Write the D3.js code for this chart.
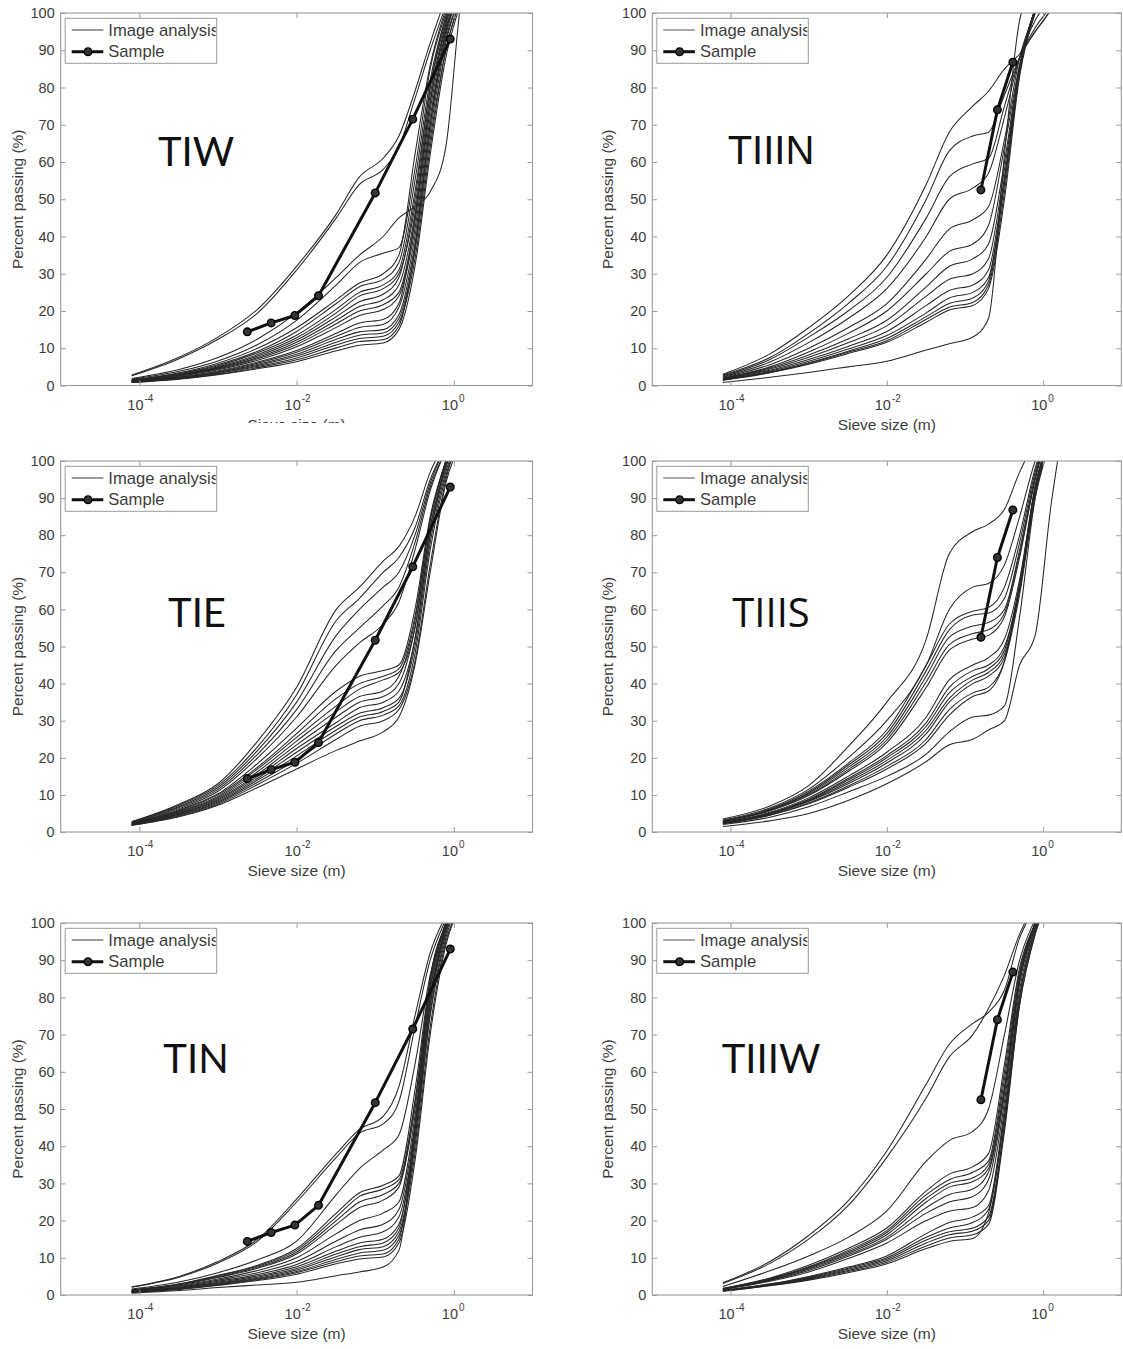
<!DOCTYPE html>
<html>
<head>
<meta charset="utf-8">
<script src="https://cdn.jsdelivr.net/npm/d3@7"></script>
<style>
  body { margin: 0; background: #fff; }
  svg { display: block; }
</style>
</head>
<body>
<svg id="chart" width="1123" height="1349"></svg>
<script>
// Sieve sizes (m) at which every image-analysis curve is sampled
const sizes = [0.00008, 0.00032, 0.001, 0.0032, 0.01, 0.032, 0.063, 0.126, 0.2, 0.32, 0.5, 0.79, 1.26, 2.0];

// Percent passing for each image-analysis curve, one row per image
const tiwCurves = [
  [2.8, 7.6, 13, 20.5, 32, 46, 56, 61, 67, 79, 92, 104, 115, 120],
  [2.6, 7.2, 12.4, 19.5, 31, 45, 54, 58, 64, 77, 90, 102, 115, 120],
  [1.9, 4.3, 7.5, 12.5, 19.5, 29, 35, 40, 45, 48, 52, 64, 105, 120],
  [1.7, 3.8, 6.6, 11, 17.5, 27, 33, 35.5, 37, 58, 85, 100, 112, 120],
  [1.5, 3.4, 6, 10, 15.5, 23, 27.5, 30, 35, 62, 86, 101, 112, 120],
  [1.4, 3.2, 5.6, 9.2, 14.5, 22, 26.5, 28.5, 33, 55, 82, 99, 110, 120],
  [1.4, 3.1, 5.3, 8.8, 13.5, 20.5, 25, 27, 31, 52, 80, 98, 110, 120],
  [1.3, 2.9, 5, 8.3, 12.8, 19.5, 24, 26, 30, 48, 78, 97, 110, 120],
  [1.3, 2.8, 4.8, 7.9, 12.2, 18.5, 22.5, 24.5, 29, 50, 80, 99, 110, 120],
  [1.2, 2.7, 4.6, 7.5, 11.6, 17.5, 21.2, 23, 27, 46, 76, 96, 108, 120],
  [1.2, 2.6, 4.4, 7.2, 11, 16.6, 20, 21.7, 25, 44, 74, 95, 108, 120],
  [1.1, 2.5, 4.2, 6.8, 10.4, 15.6, 18.8, 20.4, 24, 42, 72, 94, 108, 120],
  [1.1, 2.3, 3.9, 6.3, 9.4, 14, 16.8, 17.7, 22, 45, 76, 97, 110, 120],
  [1.0, 2.2, 3.7, 6, 8.9, 13.2, 15.6, 16.4, 21, 40, 70, 93, 106, 120],
  [1.0, 2.1, 3.5, 5.7, 8.4, 12.4, 14.4, 15, 19, 38, 68, 92, 106, 120],
  [0.9, 2, 3.3, 5.4, 7.9, 11.6, 13.5, 14.1, 18, 36, 66, 90, 105, 120],
  [0.9, 1.9, 3.2, 5.1, 7.4, 10.9, 12.6, 13.2, 17, 34, 64, 90, 105, 120],
  [0.9, 1.8, 3, 4.8, 6.9, 10.1, 11.8, 12.3, 16, 37, 70, 95, 108, 120],
  [0.8, 1.7, 2.9, 4.5, 6.4, 9.3, 10.8, 11.4, 15, 32, 62, 88, 104, 120]
];

const tiiinCurves = [
  [3, 8.5, 15.5, 24, 35, 54, 68, 75, 79, 85, 89, 95, 101, 110],
  [2.8, 7.5, 14, 22, 32, 50, 63, 67, 68, 78, 88, 95, 101, 110],
  [2.6, 7, 13, 20, 29, 45, 56, 59.5, 61, 75, 88, 96, 102, 110],
  [2.4, 6.3, 11.5, 18, 26, 40, 50, 53, 57, 72, 88, 98, 104, 110],
  [2.2, 5.6, 10, 15.5, 22, 34, 42, 44.5, 48, 66, 88, 100, 108, 115],
  [2, 5, 9, 14, 20, 30, 36, 38, 43, 64, 86, 100, 108, 115],
  [1.9, 4.7, 8.2, 12.5, 17.5, 26.5, 32, 34, 38, 60, 86, 101, 108, 115],
  [1.8, 4.4, 7.6, 11.5, 16, 24, 28.5, 30, 34, 58, 85, 101, 108, 115],
  [1.7, 4.1, 7, 10.5, 14.5, 21.5, 25.5, 27, 31, 56, 84, 101, 108, 115],
  [1.6, 3.8, 6.5, 9.8, 13.4, 19.5, 23.5, 25, 29, 54, 84, 101, 108, 115],
  [1.5, 3.6, 6.1, 9.2, 12.6, 18.5, 22, 23.5, 28, 55, 85, 101, 108, 115],
  [1.5, 3.5, 5.9, 8.9, 12, 17.8, 21, 22.3, 27, 52, 84, 101, 108, 115],
  [1.4, 3.4, 5.7, 8.6, 11.6, 17, 20.3, 21.5, 26, 50, 83, 100, 108, 115],
  [0.8, 2.2, 3.5, 5, 6.5, 9.5, 11.2, 13, 18, 62, 98, 108, 112, 115]
];

const tieCurves = [
  [2.8, 7.5, 13, 24.5, 39, 60, 66, 73, 77, 85, 97, 105, 112, 120],
  [2.7, 7.2, 12.5, 23, 37, 57, 63, 70, 74, 82, 95, 104, 112, 120],
  [2.6, 6.9, 12, 22, 35, 53, 60, 66, 70, 80, 94, 104, 112, 120],
  [2.5, 6.6, 11.5, 21, 33, 49, 55, 61, 66, 78, 93, 103, 112, 120],
  [2.4, 6.3, 11, 20, 31, 45, 51, 56, 62, 76, 92, 103, 112, 120],
  [2.3, 6, 10.3, 18.5, 28, 38, 42, 43.5, 45, 60, 85, 100, 110, 120],
  [2.2, 5.8, 10, 17.5, 26.5, 36, 40, 42, 44, 58, 84, 100, 110, 120],
  [2.2, 5.6, 9.6, 17, 25.5, 34, 38.5, 41, 43, 55, 82, 99, 110, 120],
  [2.1, 5.4, 9.3, 16.3, 24.5, 32.5, 36.5, 38, 42, 57, 84, 100, 110, 120],
  [2.1, 5.2, 9, 15.6, 23.5, 31, 35, 36.5, 40, 55, 82, 99, 110, 120],
  [2.0, 5.0, 8.7, 15, 22.5, 29.5, 33.5, 35, 38, 52, 80, 98, 110, 120],
  [2.0, 4.9, 8.4, 14.5, 21.5, 28.5, 32, 33.5, 36, 50, 78, 97, 108, 120],
  [1.9, 4.7, 8.1, 14, 20.5, 27.5, 31, 32.5, 35, 52, 80, 99, 110, 120],
  [1.9, 4.5, 7.8, 13.4, 19.5, 26.5, 30, 31.5, 34, 48, 76, 96, 108, 120],
  [1.8, 4.3, 7.5, 12.8, 18.5, 25, 28.5, 30, 33, 46, 72, 95, 108, 120],
  [1.8, 4.1, 7.2, 12, 17, 22, 24.5, 27, 31, 45, 70, 94, 106, 120]
];

const tiiisCurves = [
  [3.5, 7, 12.5, 23, 35, 52, 75, 81, 83, 87, 97, 105, 110, 120],
  [3.2, 6.5, 11.5, 20, 30, 45, 60, 66, 67, 72, 85, 100, 110, 120],
  [3, 6.2, 11, 18.5, 27.5, 45, 56, 59.5, 60.5, 66, 80, 98, 110, 120],
  [2.9, 6, 10.6, 18, 26.5, 43.5, 54.5, 58.5, 59, 63, 78, 97, 110, 120],
  [2.9, 5.9, 10.3, 17.4, 25.6, 42, 52.5, 55.5, 56.5, 60, 76, 96, 110, 120],
  [2.8, 5.8, 10, 16.8, 24.8, 40.5, 50.5, 53.5, 54.5, 59, 75, 95, 110, 120],
  [2.8, 5.7, 9.8, 16.3, 24, 39, 49, 52, 53, 58, 74, 95, 110, 120],
  [2.6, 5.3, 9.2, 15, 21.5, 31, 41, 45, 47, 52, 68, 93, 108, 120],
  [2.5, 5.1, 8.8, 14.4, 20.6, 29.5, 39, 43.5, 45, 50, 66, 92, 108, 120],
  [2.5, 5, 8.6, 14, 20, 28.5, 37.5, 42, 44, 49, 67, 93, 108, 120],
  [2.4, 4.9, 8.4, 13.5, 19.3, 27.5, 36, 41, 43, 48, 65, 91, 107, 120],
  [2.4, 4.8, 8.2, 13, 18.6, 26.5, 35, 40, 42, 47, 66, 93, 108, 120],
  [2.3, 4.6, 7.8, 12.4, 17.7, 25, 33, 37.5, 39, 46, 64, 90, 106, 120],
  [2.2, 4.5, 7.6, 12, 17, 24, 31.5, 36.5, 38, 46, 66, 92, 108, 120],
  [2, 4, 6.8, 10.8, 15, 21, 27, 31, 31.5, 34, 58, 90, 106, 120],
  [1.5, 3, 5, 8.5, 13, 19, 23.5, 25, 27.5, 30, 45, 53, 88, 115]
];

const tinCurves = [
  [2.2, 5, 9, 15, 25.8, 38, 44.5, 48, 56, 75, 92, 102, 110, 120],
  [2.1, 4.8, 8.6, 14.5, 25, 37, 43.5, 46, 52, 72, 90, 101, 110, 120],
  [1.6, 3.5, 6, 9.5, 14.5, 27, 34, 39, 43, 62, 86, 100, 110, 120],
  [1.4, 3, 5.3, 8, 12.5, 22, 27.5, 29.5, 32, 55, 85, 100, 110, 120],
  [1.3, 2.9, 5.1, 7.8, 12, 21, 26.5, 28.5, 31, 52, 83, 100, 110, 120],
  [1.3, 2.8, 4.9, 7.5, 11.5, 20, 25, 27, 30, 50, 82, 99, 110, 120],
  [1.2, 2.7, 4.7, 7.2, 11, 19, 23.5, 25.5, 29, 52, 84, 100, 110, 120],
  [1.1, 2.5, 4.3, 6.6, 10, 16.5, 20, 22, 25, 48, 80, 99, 110, 120],
  [1.0, 2.3, 4, 6, 9, 14.5, 17.5, 19, 23, 46, 80, 98, 110, 120],
  [1.0, 2.1, 3.7, 5.5, 8.2, 13, 15.5, 17, 21, 44, 78, 98, 108, 120],
  [0.9, 2, 3.4, 5.1, 7.6, 11.8, 14, 15, 19, 42, 76, 97, 108, 120],
  [0.9, 1.9, 3.2, 4.8, 7.1, 11, 13, 14, 18, 45, 80, 99, 110, 120],
  [0.8, 1.8, 3, 4.5, 6.7, 10.3, 12.2, 13, 17, 40, 75, 96, 108, 120],
  [0.8, 1.7, 2.9, 4.3, 6.3, 9.6, 11.3, 12, 16, 38, 72, 95, 106, 120],
  [0.8, 1.6, 2.7, 4.1, 6, 9, 10.5, 11, 15, 42, 78, 98, 108, 120],
  [0.7, 1.5, 2.6, 3.9, 5.6, 8.4, 9.7, 10.2, 14, 36, 70, 94, 106, 120],
  [0.5, 1.2, 2, 2.7, 3.4, 5.2, 6.2, 7.5, 12, 45, 85, 100, 110, 120]
];

const tiiiwCurves = [
  [3.3, 9, 16, 25.3, 38.7, 56.7, 67.4, 73, 76, 82, 96, 104, 110, 120],
  [3.1, 8.5, 15, 24, 37, 53, 64, 70, 77, 86, 97, 105, 110, 120],
  [2.3, 6.5, 10.5, 15.5, 22.6, 36, 41.5, 44, 50, 70, 90, 101, 110, 120],
  [1.8, 4.6, 8, 12.5, 18, 28, 32.5, 34.5, 38, 62, 88, 100, 110, 120],
  [1.7, 4.4, 7.6, 12, 17.3, 27, 31, 33, 36, 60, 87, 100, 110, 120],
  [1.7, 4.3, 7.4, 11.6, 16.8, 26, 30, 31.5, 35, 58, 86, 100, 110, 120],
  [1.6, 4.2, 7.2, 11.2, 16.2, 25, 29, 30.5, 34, 56, 85, 100, 110, 120],
  [1.6, 4, 6.9, 10.8, 15.5, 23.5, 27, 28.5, 33, 55, 85, 100, 110, 120],
  [1.5, 3.9, 6.6, 10.4, 15, 22, 25, 26.5, 31, 54, 84, 99, 110, 120],
  [1.5, 3.7, 6.2, 9.8, 14, 20, 22.5, 23.5, 28, 52, 84, 100, 110, 120],
  [1.3, 3, 5, 7.5, 10.5, 16.5, 19.5, 21, 24, 50, 82, 99, 110, 120],
  [1.2, 2.9, 4.8, 7.2, 10, 15.5, 18, 19.5, 23, 48, 80, 98, 108, 120],
  [1.2, 2.8, 4.6, 6.9, 9.6, 14.8, 17, 18, 21, 46, 80, 98, 108, 120],
  [1.1, 2.7, 4.4, 6.6, 9.2, 14, 16.2, 17.2, 20, 45, 78, 97, 108, 120],
  [1.1, 2.6, 4.2, 6.3, 8.8, 13.2, 15.3, 16.2, 19, 44, 78, 97, 108, 120],
  [1.0, 2.5, 4, 6, 8.4, 12.5, 14.4, 15.2, 22, 48, 80, 98, 108, 120]
];

// Sieved samples (size in m, percent passing)
const sampleSizesTI = [0.00236, 0.00475, 0.0095, 0.019, 0.1, 0.3, 0.9];
const samplePassingTI = [14.4, 16.8, 18.8, 24.1, 51.7, 71.5, 93.0];
const sampleSizesTIII = [0.16, 0.26, 0.41];
const samplePassingTIII = [52.5, 74.0, 86.8];

// Axis ticks
const xTickValues = [1e-4, 1e-2, 1];
const xTickExponents = ["-4", "-2", "0"];
const yTickValues = [0, 10, 20, 30, 40, 50, 60, 70, 80, 90, 100];

const legendLabels = ["Image analysis", "Sample"];

// Page layout: two columns by three rows of axes
const cols = [
  { x0: 60.7, x1: 532.5, ylabX: 18 },
  { x0: 652.3, x1: 1121.3, ylabX: 608 }
];
const rows = [
  { y0: 13, y1: 385.5, xlabY: 430 },
  { y0: 461, y1: 832, xlabY: 876 },
  { y0: 923, y1: 1295, xlabY: 1339 }
];

const panels = [
  { name: "TIW",   curves: tiwCurves,   sx: sampleSizesTI,   sy: samplePassingTI,   col: 0, row: 0, tx: 196, ty: 166, font: "Lato", clipXLabel: true },
  { name: "TIIIN", curves: tiiinCurves, sx: sampleSizesTIII, sy: samplePassingTIII, col: 1, row: 0, tx: 771, ty: 164, font: "Liberation Sans" },
  { name: "TIE",   curves: tieCurves,   sx: sampleSizesTI,   sy: samplePassingTI,   col: 0, row: 1, tx: 197, ty: 627, font: "Lato" },
  { name: "TIIIS", curves: tiiisCurves, sx: sampleSizesTIII, sy: samplePassingTIII, col: 1, row: 1, tx: 771, ty: 627, font: "Open Sans" },
  { name: "TIN",   curves: tinCurves,   sx: sampleSizesTI,   sy: samplePassingTI,   col: 0, row: 2, tx: 196, ty: 1073, font: "Lato" },
  { name: "TIIIW", curves: tiiiwCurves, sx: sampleSizesTIII, sy: samplePassingTIII, col: 1, row: 2, tx: 771, ty: 1073, font: "Lato" }
];

const svg = d3.select("#chart");
const defs = svg.append("defs");
const axisColor = "#9a9a9a";
const textColor = "#3c3c3c";
const tickFont = "Liberation Sans, Arial, sans-serif";

panels.forEach((p, k) => {
  const c = cols[p.col], r = rows[p.row];
  const x = d3.scaleLog().domain([1e-5, 10]).range([c.x0, c.x1]);
  const y = d3.scaleLinear().domain([0, 100]).range([r.y1, r.y0]);
  const g = svg.append("g").attr("class", "panel");

  const clipId = "plot-clip-" + k;
  defs.append("clipPath").attr("id", clipId)
    .append("rect")
    .attr("x", c.x0).attr("y", r.y0)
    .attr("width", c.x1 - c.x0).attr("height", r.y1 - r.y0);

  // Image-analysis gradation curves
  const curveLine = d3.line()
    .x((d, i) => x(sizes[i]))
    .y(d => y(d))
    .curve(d3.curveMonotoneX);

  const plot = g.append("g").attr("clip-path", `url(#${clipId})`);
  plot.selectAll("path.ia")
    .data(p.curves)
    .join("path")
    .attr("class", "ia")
    .attr("d", curveLine)
    .attr("fill", "none")
    .attr("stroke", "#262626")
    .attr("stroke-width", 1.05);

  // Sieved sample
  const pts = p.sx.map((s, i) => [s, p.sy[i]]);
  plot.append("path")
    .datum(pts)
    .attr("d", d3.line().x(d => x(d[0])).y(d => y(d[1])))
    .attr("fill", "none")
    .attr("stroke", "#111")
    .attr("stroke-width", 3)
    .attr("stroke-linejoin", "round");
  plot.selectAll("circle.smp")
    .data(pts)
    .join("circle")
    .attr("class", "smp")
    .attr("cx", d => x(d[0]))
    .attr("cy", d => y(d[1]))
    .attr("r", 3.8)
    .attr("fill", "#333")
    .attr("stroke", "#000")
    .attr("stroke-width", 1.4);

  // Axes box
  g.append("rect")
    .attr("x", c.x0).attr("y", r.y0)
    .attr("width", c.x1 - c.x0).attr("height", r.y1 - r.y0)
    .attr("fill", "none").attr("stroke", axisColor).attr("stroke-width", 1.1);

  const styleTicks = sel => {
    sel.select(".domain").remove();
    sel.selectAll(".tick line").attr("stroke", axisColor).attr("stroke-width", 1);
  };

  g.append("g").attr("transform", `translate(0,${r.y1})`)
    .call(d3.axisBottom(x).tickValues(xTickValues).tickSizeInner(-5).tickSizeOuter(0).tickFormat(""))
    .call(styleTicks);
  g.append("g").attr("transform", `translate(0,${r.y0})`)
    .call(d3.axisTop(x).tickValues(xTickValues).tickSizeInner(-5).tickSizeOuter(0).tickFormat(""))
    .call(styleTicks);
  g.append("g").attr("transform", `translate(${c.x1},0)`)
    .call(d3.axisRight(y).tickValues(yTickValues).tickSizeInner(-5).tickSizeOuter(0).tickFormat(""))
    .call(styleTicks);
  const yAxis = g.append("g").attr("transform", `translate(${c.x0},0)`)
    .call(d3.axisLeft(y).tickValues(yTickValues).tickSizeInner(-5).tickSizeOuter(0).tickPadding(6))
    .call(styleTicks);
  yAxis.selectAll(".tick text")
    .attr("fill", textColor)
    .style("font-family", tickFont)
    .style("font-size", "14.5px");

  // Power-of-ten x tick labels
  xTickValues.forEach((v, i) => {
    const t = g.append("text")
      .attr("x", x(v) - 12)
      .attr("y", r.y1 + 24)
      .attr("fill", textColor)
      .style("font-family", tickFont)
      .style("font-size", "14.5px")
      .text("10");
    t.append("tspan")
      .attr("dy", -8)
      .attr("dx", 1)
      .style("font-size", "10px")
      .text(xTickExponents[i]);
  });

  // Axis titles
  const xTitle = g.append("text")
    .attr("x", (c.x0 + c.x1) / 2)
    .attr("y", r.xlabY)
    .attr("text-anchor", "middle")
    .attr("fill", textColor)
    .style("font-family", tickFont)
    .style("font-size", "15.5px")
    .text("Sieve size (m)");
  if (p.clipXLabel) {
    const xlClip = "xlabel-clip-" + k;
    defs.append("clipPath").attr("id", xlClip)
      .append("rect").attr("x", 0).attr("y", r.y1 + 26).attr("width", 1123).attr("height", 423 - (r.y1 + 26));
    xTitle.attr("clip-path", `url(#${xlClip})`);
  }

  g.append("text")
    .attr("transform", `translate(${c.ylabX},${(r.y0 + r.y1) / 2}) rotate(-90)`)
    .attr("text-anchor", "middle")
    .attr("dy", "0.35em")
    .attr("fill", textColor)
    .style("font-family", tickFont)
    .style("font-size", "15.5px")
    .text("Percent passing (%)");

  // Legend
  const lx = c.x0 + 4.5, ly = r.y0 + 5.3, lw = 151.5, lh = 45;
  const legClip = "legend-clip-" + k;
  defs.append("clipPath").attr("id", legClip)
    .append("rect").attr("x", lx).attr("y", ly).attr("width", lw - 1).attr("height", lh);
  const leg = g.append("g");
  leg.append("rect")
    .attr("x", lx).attr("y", ly).attr("width", lw).attr("height", lh)
    .attr("fill", "#fff").attr("stroke", axisColor).attr("stroke-width", 1);
  const row1 = r.y0 + 17, row2 = r.y0 + 38.7;
  leg.append("line")
    .attr("x1", c.x0 + 11).attr("x2", c.x0 + 42.6)
    .attr("y1", row1).attr("y2", row1)
    .attr("stroke", "#7a7a7a").attr("stroke-width", 1.3);
  leg.append("line")
    .attr("x1", c.x0 + 11).attr("x2", c.x0 + 42.6)
    .attr("y1", row2).attr("y2", row2)
    .attr("stroke", "#111").attr("stroke-width", 3);
  leg.append("circle")
    .attr("cx", c.x0 + 27.3).attr("cy", row2).attr("r", 3.8)
    .attr("fill", "#333").attr("stroke", "#000").attr("stroke-width", 1.4);
  const legText = leg.append("g").attr("clip-path", `url(#${legClip})`);
  legendLabels.forEach((lab, i) => {
    legText.append("text")
      .attr("x", c.x0 + 47.6)
      .attr("y", (i === 0 ? row1 : row2) + 5.5)
      .attr("fill", textColor)
      .style("font-family", tickFont)
      .style("font-size", "16.6px")
      .text(lab);
  });

  // Location name
  g.append("text")
    .attr("x", p.tx)
    .attr("y", p.ty)
    .attr("text-anchor", "middle")
    .attr("fill", "#111")
    .style("font-family", p.font + ", sans-serif")
    .style("font-size", "40px")
    .text(p.name);
});
</script>
</body>
</html>
